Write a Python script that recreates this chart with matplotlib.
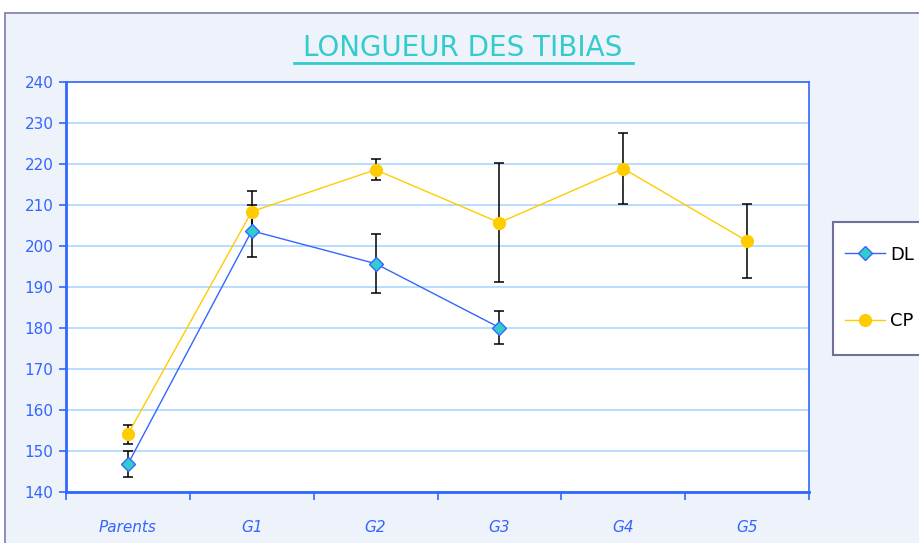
import matplotlib.pyplot as plt
from matplotlib.patches import Rectangle
from matplotlib.lines import Line2D
import numpy as np

categories = ['Parents', 'G1', 'G2', 'G3', 'G4', 'G5']
dl_mean = [146.8, 203.7, 195.7, 180.1]
dl_err = [3.2, 6.4, 7.2, 4.0]
cp_mean = [154.1, 208.4, 218.6, 205.7, 218.9, 201.2]
cp_err = [2.3, 5.1, 2.5, 14.6, 8.6, 9.0]

blue = '#3366FF'
teal = '#33CCCC'
gold = '#FFCC00'
font = 'DejaVu Sans'

fig = plt.figure(figsize=(9.19, 5.43), dpi=100)
fig.patch.set_facecolor('white')

# chart area background
W, H = 919.0, 543.0
fig.patches.append(Rectangle((5 / W, -0.1), 1.0, 1 - 13 / H + 0.1, transform=fig.transFigure,
                             facecolor='#EEF2FA', edgecolor='#7C7CAA', linewidth=1.2, zorder=-1))

ax = fig.add_axes([66 / W, 1 - 492 / H, (809 - 66) / W, (492 - 82) / H])
ax.set_zorder(1)
ax.set_facecolor('white')

x_cp = np.arange(len(cp_mean)) + 0.5
x_dl = np.arange(len(dl_mean)) + 0.5

ax.errorbar(x_dl, dl_mean, yerr=dl_err, fmt='none', ecolor='black', elinewidth=1.1,
            capsize=3.5, capthick=1.1, zorder=3)
ax.errorbar(x_cp, cp_mean, yerr=cp_err, fmt='none', ecolor='black', elinewidth=1.1,
            capsize=3.5, capthick=1.1, zorder=3)
ax.plot(x_dl, dl_mean, color=blue, lw=1, marker='D', markersize=7,
        markerfacecolor=teal, markeredgecolor=blue, markeredgewidth=1, zorder=4, label='DL')
ax.plot(x_cp, cp_mean, color=gold, lw=1, marker='o', markersize=8.5,
        markerfacecolor=gold, markeredgecolor=gold, zorder=4, label='CP')

ax.set_xlim(0, 6)
ax.set_ylim(140, 240)
ax.set_yticks(np.arange(140, 241, 10))
ax.grid(axis='y', color='#A6D2FF', lw=1.1)
ax.set_axisbelow(True)

ax.set_xticks(np.arange(0, 7))
ax.set_xticklabels([])
ax.set_xticks(x_cp, minor=True)
ax.set_xticklabels(categories, minor=True, fontsize=11, color=blue, family=font, style='italic')
ax.tick_params(axis='x', which='minor', length=0, pad=20)
ax.tick_params(axis='x', which='major', length=6, width=1.2, color=blue, direction='out')
ax.tick_params(axis='y', length=5, width=1.2, color=blue, labelsize=11, labelcolor=blue, pad=4)
for lab in ax.get_yticklabels():
    lab.set_family(font)

for s in ax.spines.values():
    s.set_color(blue)
    s.set_linewidth(1.2)
ax.spines['left'].set_linewidth(2)
ax.spines['bottom'].set_linewidth(2)

# title with underline
fig.text(463 / W, 1 - 48 / H, 'LONGUEUR DES TIBIAS', ha='center', va='center',
         fontsize=20, color=teal, family=font)
fig.lines.append(Line2D([294 / W, 633 / W], [1 - 63 / H, 1 - 63 / H], transform=fig.transFigure,
                        color=teal, lw=2))

# legend box
fig.patches.append(Rectangle((833 / W, 1 - 355 / H), 0.2, 133 / H, transform=fig.transFigure,
                             facecolor='white', edgecolor='#707098', linewidth=1.5, zorder=2))
handles, labels = ax.get_legend_handles_labels()
leg = fig.legend(handles, labels, loc='center left', bbox_to_anchor=(845 / W, 1 - 288 / H),
                 frameon=False, fontsize=13, labelspacing=2.7, handlelength=2.2,
                 handletextpad=0.3, borderaxespad=0, borderpad=0)
leg.set_zorder(5)

fig.savefig('out.png', dpi=100)
